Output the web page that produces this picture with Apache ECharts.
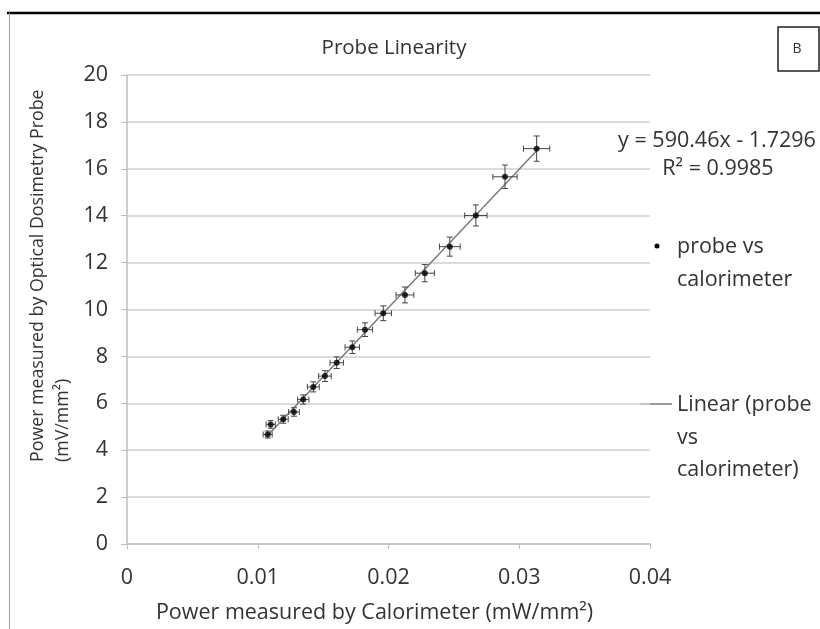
<!DOCTYPE html>
<html>
<head>
<meta charset="utf-8">
<script src="https://cdn.jsdelivr.net/npm/echarts@6/dist/echarts.min.js"></script>
<style>html,body{margin:0;padding:0;background:#fff}#chart{width:820px;height:629px}</style>
</head>
<body>
<div id="chart"></div>
<script>
// Data
var probeX = [0.01076, 0.01099, 0.01195, 0.01277, 0.01348, 0.01425, 0.01514, 0.01604, 0.01723, 0.01820, 0.01960, 0.02126, 0.02278, 0.02469, 0.02668, 0.02891, 0.03133];
var probeY = [4.67, 5.10, 5.32, 5.63, 6.16, 6.70, 7.16, 7.73, 8.39, 9.14, 9.84, 10.62, 11.55, 12.68, 14.01, 15.66, 16.86];
var trendSlope = 590.46;
var trendIntercept = -1.7296;
var rSquared = 0.9985;
var errPct = 0.032; // percentage error bars (both directions)
var xTicks = [0, 0.01, 0.02, 0.03, 0.04];
var yTicks = [0, 2, 4, 6, 8, 10, 12, 14, 16, 18, 20];

var FONT = 'Open Sans';
var TXT = '#333333';
var FS = 21.5;

var points = probeX.map(function (x, i) { return [x, probeY[i]]; });
var xMin = Math.min.apply(null, probeX), xMax = Math.max.apply(null, probeX);
var trend = [[xMin, trendSlope * xMin + trendIntercept], [xMax, trendSlope * xMax + trendIntercept]];
var eqText = 'y = ' + trendSlope + 'x - ' + Math.abs(trendIntercept);
var r2Text = 'R² = ' + rSquared;

var chart = echarts.init(document.getElementById('chart'));
chart.setOption({
  animation: false,
  backgroundColor: '#fff',
  title: {
    text: 'Probe Linearity', left: 389, top: 33, textAlign: 'center',
    textStyle: { fontFamily: FONT, fontSize: 20.5, fontWeight: 'normal', color: TXT }
  },
  grid: { left: 127, right: 170, top: 75, bottom: 83 },
  xAxis: {
    type: 'value', min: 0, max: 0.04, interval: 0.01,
    name: 'Power measured by Calorimeter (mW/mm²)', nameLocation: 'middle', nameGap: 58,
    nameTextStyle: { fontFamily: FONT, fontSize: FS, color: TXT, padding: [0, 28, 0, 0] },
    axisLine: { lineStyle: { color: '#bdbdbd', width: 1.5 } },
    axisTick: { show: true, length: 5, lineStyle: { color: '#bdbdbd' } },
    axisLabel: { fontFamily: FONT, fontSize: FS, color: TXT, margin: 23, formatter: function (v) { return String(+v.toFixed(2)); } },
    splitLine: { show: false }
  },
  yAxis: {
    type: 'value', min: 0, max: 20, interval: 2,
    axisLine: { show: true, lineStyle: { color: '#bdbdbd', width: 1.5 } },
    axisTick: { show: true, length: 6, lineStyle: { color: '#bdbdbd' } },
    axisLabel: { fontFamily: FONT, fontSize: FS, color: TXT, margin: 19 },
    splitLine: { lineStyle: { color: '#cfcfcf', width: 1.5 } }
  },
  series: [
    {
      name: 'Linear (probe vs calorimeter)', type: 'line', data: trend, symbol: 'none',
      lineStyle: { color: '#7a7a7a', width: 1.5 }, z: 2
    },
    {
      name: 'error bars', type: 'custom', data: points, z: 3,
      renderItem: function (params, api) {
        var x = api.value(0), y = api.value(1);
        var ex = x * errPct, ey = y * errPct;
        var l = api.coord([x - ex, y]), r = api.coord([x + ex, y]);
        var t = api.coord([x, y + ey]), b = api.coord([x, y - ey]);
        var c = 3;
        var st = { stroke: '#454545', lineWidth: 1 };
        return { type: 'group', children: [
          { type: 'line', shape: { x1: l[0], y1: l[1], x2: r[0], y2: r[1] }, style: st },
          { type: 'line', shape: { x1: l[0], y1: l[1] - c, x2: l[0], y2: l[1] + c }, style: st },
          { type: 'line', shape: { x1: r[0], y1: r[1] - c, x2: r[0], y2: r[1] + c }, style: st },
          { type: 'line', shape: { x1: t[0], y1: t[1], x2: b[0], y2: b[1] }, style: st },
          { type: 'line', shape: { x1: t[0] - c, y1: t[1], x2: t[0] + c, y2: t[1] }, style: st },
          { type: 'line', shape: { x1: b[0] - c, y1: b[1], x2: b[0] + c, y2: b[1] }, style: st }
        ] };
      }
    },
    {
      name: 'probe vs calorimeter', type: 'scatter', data: points, symbol: 'circle', symbolSize: 6,
      itemStyle: { color: '#000' }, z: 4
    }
  ],
  graphic: [
    { type: 'line', shape: { x1: 7, y1: 13, x2: 820, y2: 13 }, style: { stroke: '#000', lineWidth: 2.5 } },
    { type: 'line', shape: { x1: 9.5, y1: 13, x2: 9.5, y2: 629 }, style: { stroke: '#a0a0a0', lineWidth: 1 } },
    { type: 'rect', shape: { x: 778, y: 27, width: 41, height: 44 }, style: { fill: '#fff', stroke: '#222', lineWidth: 1.5 } },
    { type: 'text', x: 797, y: 49, style: { text: 'B', font: '14px "' + FONT + '"', fill: TXT, align: 'center', verticalAlign: 'middle' } },
    { type: 'text', x: 50.5, y: 462, rotation: Math.PI / 2,
      style: { text: 'Power measured by Optical Dosimetry Probe\n(mV/mm²)', font: '17.8px "' + FONT + '"', lineHeight: 25, fill: TXT, align: 'left', verticalAlign: 'middle' } },
    { type: 'text', x: 717, y: 141, style: { text: eqText, font: FS + 'px "' + FONT + '"', fill: TXT, align: 'center', verticalAlign: 'middle' } },
    { type: 'text', x: 718, y: 169, style: { text: r2Text, font: FS + 'px "' + FONT + '"', fill: TXT, align: 'center', verticalAlign: 'middle' } },
    { type: 'circle', shape: { cx: 657, cy: 246, r: 2.5 }, style: { fill: '#000' } },
    { type: 'text', x: 677, y: 247 - 16.5, style: { text: 'probe vs\ncalorimeter', font: FS + 'px "' + FONT + '"', lineHeight: 33, fill: TXT, align: 'left', verticalAlign: 'top' } },
    { type: 'line', shape: { x1: 640, y1: 404, x2: 672, y2: 404 }, style: { stroke: '#7a7a7a', lineWidth: 1.5 } },
    { type: 'text', x: 677, y: 405 - 16.25, style: { text: 'Linear (probe\nvs\ncalorimeter)', font: FS + 'px "' + FONT + '"', lineHeight: 32.5, fill: TXT, align: 'left', verticalAlign: 'top' } }
  ]
});
</script>
</body>
</html>
